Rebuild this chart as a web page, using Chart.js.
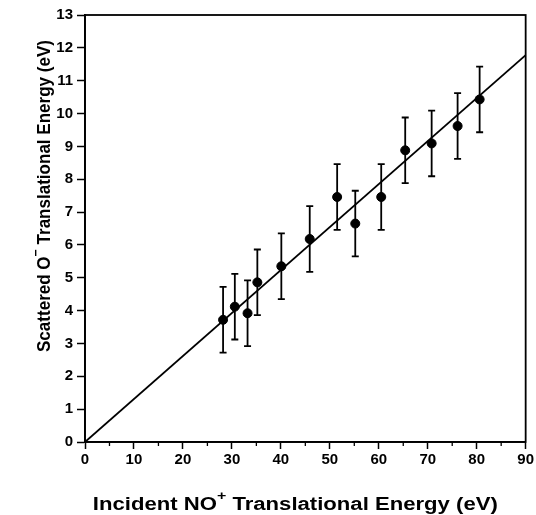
<!DOCTYPE html>
<html>
<head>
<meta charset="utf-8">
<script src="https://cdn.jsdelivr.net/npm/chart.js@4.4.1/dist/chart.umd.min.js"></script>
<style>
html, body { margin: 0; padding: 0; background: #fff; }
</style>
</head>
<body>
<canvas id="myChart" width="536" height="515"></canvas>
<script>
// values
const incidentE = [28.2, 30.6, 33.2, 35.2, 40.1, 45.9, 51.5, 55.2, 60.5, 65.4, 70.8, 76.1, 80.6];
const scatteredE = [3.72, 4.12, 3.92, 4.86, 5.35, 6.18, 7.46, 6.65, 7.46, 8.88, 9.09, 9.62, 10.43];
const errE = [1.0, 1.0, 1.0, 1.0, 1.0, 1.0, 1.0, 1.0, 1.0, 1.0, 1.0, 1.0, 1.0];
const fitX = [0, 90];
const fitY = [0, 11.78];
const xMinor = [5, 15, 25, 35, 45, 55, 65, 75, 85];

const FONT = '"Liberation Sans", Arial, Helvetica, sans-serif';

const pts = incidentE.map((x, i) => ({x: x, y: scatteredE[i]}));
const fitPts = fitX.map((x, i) => ({x: x, y: fitY[i]}));

// error bars, frame, minor ticks
const extras = {
    id: 'extras',
    beforeDatasetsDraw(chart) {
        const ctx = chart.ctx;
        const xs = chart.scales.x, ys = chart.scales.y;
        ctx.save();
        ctx.strokeStyle = '#000';
        ctx.lineWidth = 1.8;
        for (let i = 0; i < incidentE.length; i++) {
            let px = xs.getPixelForValue(incidentE[i]);
            let top = ys.getPixelForValue(scatteredE[i] + errE[i]);
            let bot = ys.getPixelForValue(scatteredE[i] - errE[i]);
            ctx.beginPath();
            ctx.moveTo(px, top); ctx.lineTo(px, bot);
            ctx.moveTo(px - 3.5, top); ctx.lineTo(px + 3.5, top);
            ctx.moveTo(px - 3.5, bot); ctx.lineTo(px + 3.5, bot);
            ctx.stroke();
        }
        ctx.restore();
    },
    afterDraw(chart) {
        const ctx = chart.ctx;
        const a = chart.chartArea;
        const xs = chart.scales.x;
        ctx.save();
        ctx.strokeStyle = '#000';
        ctx.lineWidth = 1.8;
        ctx.strokeRect(a.left, a.top, a.right - a.left, a.bottom - a.top);
        ctx.lineWidth = 1.3;
        ctx.beginPath();
        xMinor.forEach(v => {
            let px = xs.getPixelForValue(v);
            ctx.moveTo(px, a.bottom); ctx.lineTo(px, a.bottom + 4);
        });
        ctx.stroke();

        // axis titles with superscripts
        ctx.fillStyle = '#000';
        ctx.textBaseline = 'alphabetic';
        let big = 'bold 18px ' + FONT, small = 'bold 13px ' + FONT;
        function parts(list) {
            let w = 0;
            list.forEach(p => { ctx.font = p.sup ? small : big; p.w = ctx.measureText(p.t).width; w += p.w; });
            return w;
        }
        function put(list, x0) {
            let x = x0;
            list.forEach(p => {
                ctx.font = p.sup ? small : big;
                ctx.fillText(p.t, x, p.sup ? -10 : 0);
                x += p.w;
            });
        }
        let xt = [{t: 'Incident NO'}, {t: '+', sup: true}, {t: ' Translational Energy (eV)'}];
        let w = parts(xt);
        ctx.save();
        ctx.translate((a.left + a.right) / 2 - 10, 510);
        ctx.scale(405 / w, 1);
        put(xt, -w / 2);
        ctx.restore();

        let yt = [{t: 'Scattered O'}, {t: '\u2212', sup: true}, {t: ' Translational Energy (eV)'}];
        w = parts(yt);
        ctx.save();
        ctx.translate(50, 196);
        ctx.rotate(-Math.PI / 2);
        ctx.scale(312 / w, 1);
        put(yt, -w / 2);
        ctx.restore();
        ctx.restore();
    }
};

const ctx = document.getElementById('myChart');

new Chart(ctx, {
    type: 'scatter',
    data: {
        datasets: [{
            type: 'line',
            data: fitPts,
            borderColor: '#000',
            borderWidth: 1.8,
            pointRadius: 0,
            fill: false
        }, {
            data: pts,
            backgroundColor: '#000',
            borderColor: '#000',
            pointRadius: 4.5,
            pointHoverRadius: 4.5
        }]
    },
    options: {
        responsive: false,
        animation: false,
        layout: { padding: { top: 15, right: 10, left: 0, bottom: 0 } },
        plugins: {
            legend: { display: false },
            tooltip: { enabled: false }
        },
        scales: {
            x: {
                type: 'linear',
                min: 0, max: 90,
                afterFit: s => { s.height = 73; },
                grid: { drawOnChartArea: false, drawTicks: true, tickLength: 7, tickColor: '#000', tickWidth: 1.5 },
                border: { display: true, color: '#000', width: 1.8 },
                ticks: { stepSize: 10, padding: 2, color: '#000', maxRotation: 0,
                    font: { family: FONT, size: 15, weight: 'bold' } }
            },
            y: {
                min: 0, max: 13,
                afterFit: s => { s.width = 85; },
                grid: { drawOnChartArea: false, drawTicks: true, tickLength: 8, tickColor: '#000', tickWidth: 1.5 },
                border: { display: true, color: '#000', width: 1.8 },
                ticks: { stepSize: 1, padding: 4, color: '#000',
                    font: { family: FONT, size: 15, weight: 'bold' } }
            }
        }
    },
    plugins: [extras]
});
</script>
</body>
</html>
